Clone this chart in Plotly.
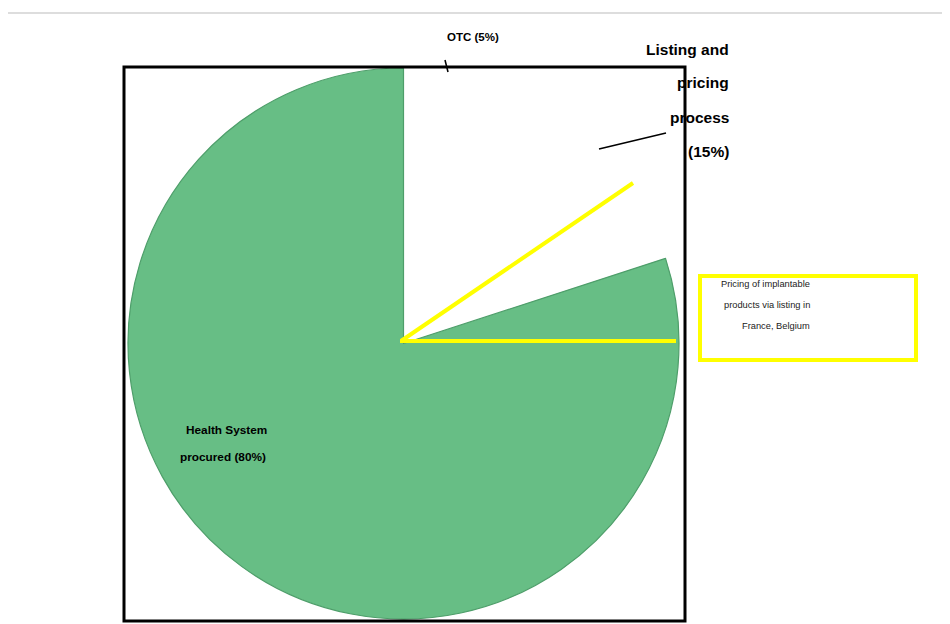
import plotly.graph_objects as go

# Data
labels = ["OTC (5%)", "Listing and pricing process (15%)", "Health System procured (80%)"]
values = [5, 15, 80]
slice_colors = ["rgba(0,0,0,0)", "rgba(0,0,0,0)", "#67BE85"]
line_colors = ["rgba(0,0,0,0)", "rgba(0,0,0,0)", "#4E9E6A"]
line_widths = [0, 0, 1.2]

# page body has an 8px margin; the figure fills the rest of the window
OFF = 8
W, H = 950 - OFF, 624 - OFF

def px(x):
    return (x - OFF) / W

def py(y):
    return 1 - (y - OFF) / H

fig = go.Figure()
fig.add_trace(go.Pie(
    labels=labels,
    values=values,
    sort=False,
    direction="clockwise",
    rotation=0,
    textinfo="none",
    hoverinfo="label+percent",
    marker=dict(colors=slice_colors, line=dict(color=line_colors, width=line_widths)),
    domain=dict(x=[px(128), px(679)], y=[py(619), py(68)]),
    showlegend=False,
))

shapes = [
    # top grey rule
    dict(type="line", xref="paper", yref="paper", x0=0, x1=1, y0=py(13), y1=py(13),
         line=dict(color="#DDDDDD", width=2)),
    # black frame
    dict(type="rect", xref="paper", yref="paper", x0=px(124), x1=px(685), y0=py(67), y1=py(621),
         line=dict(color="black", width=3), layer="above"),
    # yellow lines
    dict(type="line", xref="paper", yref="paper", x0=px(401), x1=px(633), y0=py(341), y1=py(183),
         line=dict(color="#FFFF00", width=4)),
    dict(type="line", xref="paper", yref="paper", x0=px(400), x1=px(676), y0=py(341), y1=py(341),
         line=dict(color="#FFFF00", width=4)),
    # yellow box
    dict(type="rect", xref="paper", yref="paper", x0=px(700), x1=px(916), y0=py(276), y1=py(360),
         line=dict(color="#FFFF00", width=4)),
    # leader lines
    dict(type="line", xref="paper", yref="paper", x0=px(445), x1=px(448), y0=py(60), y1=py(72),
         line=dict(color="black", width=1.5)),
    dict(type="line", xref="paper", yref="paper", x0=px(599), x1=px(666), y0=py(149), y1=py(133),
         line=dict(color="black", width=1.5)),
]

annotations = []

def add_text(text, x, y, size, bold=False, xanchor="center", color="black"):
    annotations.append(dict(
        text=f"<b>{text}</b>" if bold else text,
        x=px(x), y=py(y), xref="paper", yref="paper",
        xanchor=xanchor, yanchor="middle", showarrow=False,
        font=dict(family="Liberation Sans, Arial", size=size, color=color),
    ))

add_text("OTC (5%)", 473, 37, 11.5, bold=True)
for t, yy in [("Listing and", 49), ("pricing", 83), ("process", 117), ("(15%)", 151)]:
    add_text(t, 731, yy, 15.5, bold=True, xanchor="right")
add_text("Health System", 226, 430, 11.8, bold=True)
add_text("procured (80%)", 223, 457, 11.8, bold=True)
for t, yy in [("Pricing of implantable", 284), ("products via listing in", 305), ("France, Belgium", 326)]:
    add_text(t, 812, yy, 9.3, xanchor="right", color="#222222")

fig.update_layout(
    width=W, height=H,
    margin=dict(l=0, r=0, t=0, b=0),
    paper_bgcolor="white",
    plot_bgcolor="white",
    shapes=shapes,
    annotations=annotations,
)

fig.write_html("out.html")
